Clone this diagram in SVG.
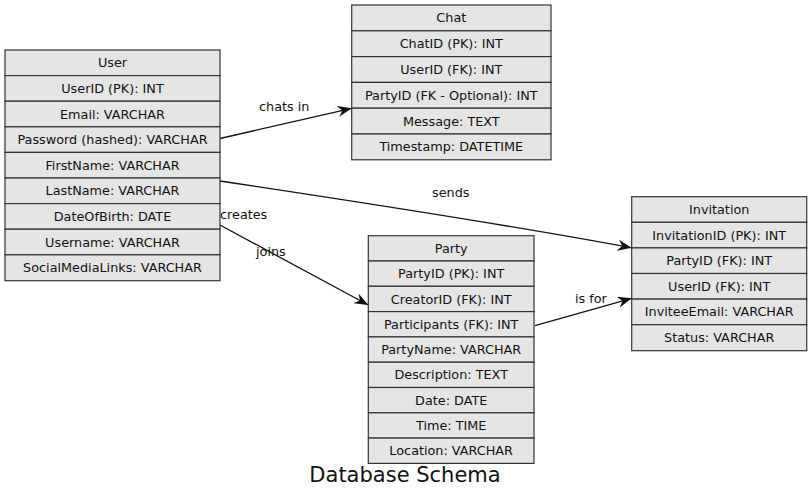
<svg xmlns="http://www.w3.org/2000/svg" width="812" height="495" viewBox="0 0 812 495">
<style>
.cell{fill:#e5e5e5;stroke:#333;stroke-width:1.2}
.t{font-family:"DejaVu Sans","Liberation Sans",sans-serif;font-size:12.8px;fill:#111;text-anchor:middle}
.lbl{font-family:"DejaVu Sans","Liberation Sans",sans-serif;font-size:12.8px;fill:#111}
.edge{fill:none;stroke:#111;stroke-width:1.3;marker-end:url(#vee)}
.title{font-family:"DejaVu Sans","Liberation Sans",sans-serif;font-size:21px;fill:#111;text-anchor:middle}
</style>
<defs>
<marker id="vee" markerUnits="userSpaceOnUse" markerWidth="16" markerHeight="12" refX="14" refY="5.5" orient="auto">
<path d="M0,0 L14,5.5 L0,11 L4.5,5.5 Z" fill="#111"/>
</marker>
</defs>
<rect width="812" height="495" fill="#fff"/>

<g id="edges">
<path class="edge" d="M220,138.5 L351.7,108.3"/>
<path class="edge" d="M220,181 C320,196 520,227 631.7,247.8"/>
<path class="edge" d="M220,225 L368.3,305"/>
<path class="edge" d="M535,325.7 L631.7,298.3"/>
<text class="lbl" x="259" y="111">chats in</text>
<text class="lbl" x="432" y="197">sends</text>
<text class="lbl" x="220" y="219">creates</text>
<text class="lbl" x="256" y="256">joins</text>
<text class="lbl" x="575" y="303">is for</text>
</g>

<g id="User">
<rect class="cell" x="5" y="50" width="215" height="25.6"/>
<rect class="cell" x="5" y="75.6" width="215" height="25.6"/>
<rect class="cell" x="5" y="101.2" width="215" height="25.6"/>
<rect class="cell" x="5" y="126.8" width="215" height="25.6"/>
<rect class="cell" x="5" y="152.4" width="215" height="25.6"/>
<rect class="cell" x="5" y="178" width="215" height="25.6"/>
<rect class="cell" x="5" y="203.6" width="215" height="25.6"/>
<rect class="cell" x="5" y="229.2" width="215" height="25.6"/>
<rect class="cell" x="5" y="254.8" width="215" height="25.9"/>
<text class="t" x="112.5" y="67.3">User</text>
<text class="t" x="112.5" y="92.9">UserID (PK): INT</text>
<text class="t" x="112.5" y="118.5">Email: VARCHAR</text>
<text class="t" x="112.5" y="144.1">Password (hashed): VARCHAR</text>
<text class="t" x="112.5" y="169.7">FirstName: VARCHAR</text>
<text class="t" x="112.5" y="195.3">LastName: VARCHAR</text>
<text class="t" x="112.5" y="220.9">DateOfBirth: DATE</text>
<text class="t" x="112.5" y="246.5">Username: VARCHAR</text>
<text class="t" x="112.5" y="272.1">SocialMediaLinks: VARCHAR</text>
</g>

<g id="Chat">
<rect class="cell" x="351.7" y="5" width="199.3" height="25.8"/>
<rect class="cell" x="351.7" y="30.8" width="199.3" height="25.8"/>
<rect class="cell" x="351.7" y="56.6" width="199.3" height="25.8"/>
<rect class="cell" x="351.7" y="82.4" width="199.3" height="25.8"/>
<rect class="cell" x="351.7" y="108.2" width="199.3" height="25.8"/>
<rect class="cell" x="351.7" y="134" width="199.3" height="25.8"/>
<text class="t" x="451.3" y="22.4">Chat</text>
<text class="t" x="451.3" y="48.2">ChatID (PK): INT</text>
<text class="t" x="451.3" y="74">UserID (FK): INT</text>
<text class="t" x="451.3" y="99.8">PartyID (FK - Optional): INT</text>
<text class="t" x="451.3" y="125.6">Message: TEXT</text>
<text class="t" x="451.3" y="151.4">Timestamp: DATETIME</text>
</g>

<g id="Party">
<rect class="cell" x="368.3" y="235.7" width="165.7" height="25.3"/>
<rect class="cell" x="368.3" y="261" width="165.7" height="25.3"/>
<rect class="cell" x="368.3" y="286.3" width="165.7" height="25.3"/>
<rect class="cell" x="368.3" y="311.6" width="165.7" height="25.3"/>
<rect class="cell" x="368.3" y="336.9" width="165.7" height="25.3"/>
<rect class="cell" x="368.3" y="362.2" width="165.7" height="25.3"/>
<rect class="cell" x="368.3" y="387.5" width="165.7" height="25.3"/>
<rect class="cell" x="368.3" y="412.8" width="165.7" height="25.3"/>
<rect class="cell" x="368.3" y="438.1" width="165.7" height="25.3"/>
<text class="t" x="451.2" y="252.9">Party</text>
<text class="t" x="451.2" y="278.2">PartyID (PK): INT</text>
<text class="t" x="451.2" y="303.5">CreatorID (FK): INT</text>
<text class="t" x="451.2" y="328.8">Participants (FK): INT</text>
<text class="t" x="451.2" y="354.1">PartyName: VARCHAR</text>
<text class="t" x="451.2" y="379.4">Description: TEXT</text>
<text class="t" x="451.2" y="404.7">Date: DATE</text>
<text class="t" x="451.2" y="430">Time: TIME</text>
<text class="t" x="451.2" y="455.3">Location: VARCHAR</text>
</g>

<g id="Invitation">
<rect class="cell" x="631.7" y="196.7" width="175" height="25.6"/>
<rect class="cell" x="631.7" y="222.3" width="175" height="25.6"/>
<rect class="cell" x="631.7" y="247.9" width="175" height="25.6"/>
<rect class="cell" x="631.7" y="273.5" width="175" height="25.6"/>
<rect class="cell" x="631.7" y="299.1" width="175" height="25.6"/>
<rect class="cell" x="631.7" y="324.7" width="175" height="26"/>
<text class="t" x="719.2" y="214">Invitation</text>
<text class="t" x="719.2" y="239.6">InvitationID (PK): INT</text>
<text class="t" x="719.2" y="265.2">PartyID (FK): INT</text>
<text class="t" x="719.2" y="290.8">UserID (FK): INT</text>
<text class="t" x="719.2" y="316.4">InviteeEmail: VARCHAR</text>
<text class="t" x="719.2" y="342">Status: VARCHAR</text>
</g>

<text class="title" x="405" y="482.3">Database Schema</text>
</svg>
